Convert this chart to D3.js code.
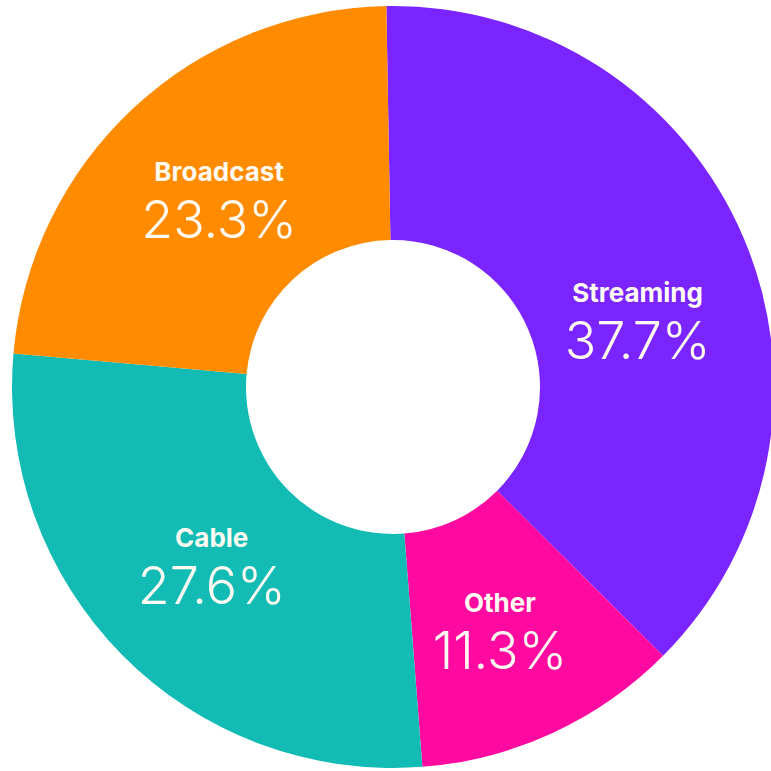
<!DOCTYPE html>
<html>
  <head>
    <meta charset="utf-8">
    <title></title>
    <script src="https://cdn.jsdelivr.net/npm/d3@7" charset="utf-8"></script>
    <style>
      html, body {margin: 0; padding: 0; background: #fff;}
      svg {display: block;}
    </style>
  </head>
  <body>
    <script>
    // data
    const categories = ['Streaming', 'Other', 'Cable', 'Broadcast'];
    const shares = [37.7, 11.3, 27.6, 23.3];
    const colors = ['#7a24ff', '#ff0aa0', '#12bcb4', '#ff8b00'];

    const W = 771, H = 771;
    const cx = 393, cy = 387;
    const outerR = 381, innerR = 147;

    const svg = d3.select('body').append('svg').attr('width', W).attr('height', H);
    const g = svg.append('g').attr('transform', `translate(${cx}, ${cy})`);

    const datas = categories.map((name, i) => ({name, value: shares[i], color: colors[i]}));

    // start slightly left of 12 o'clock like the original
    const offset = -1 * Math.PI / 180;
    const pie = d3.pie()
      .value(d => d.value)
      .sort(null)
      .startAngle(offset)
      .endAngle(2 * Math.PI + offset);

    const arc = d3.arc().innerRadius(innerR).outerRadius(outerR);
    const labelArc = d3.arc().innerRadius(255).outerRadius(255);

    const pieRes = pie(datas);

    g.selectAll('path.slice')
      .data(pieRes)
      .enter().append('path')
      .attr('class', 'slice')
      .attr('d', arc)
      .attr('fill', d => d.data.color)
      .attr('stroke', 'none');

    // Streaming label sits a bit lower than its centroid
    const nudge = {Streaming: [10, 34], Other: [0, 12]};

    const labels = g.selectAll('g.label')
      .data(pieRes)
      .enter().append('g')
      .attr('class', 'label')
      .attr('transform', d => {
        const [x, y] = labelArc.centroid(d);
        const n = nudge[d.data.name] || [0, 0];
        return `translate(${x + n[0]}, ${y + n[1]})`;
      });

    labels.append('text')
      .attr('text-anchor', 'middle')
      .attr('y', -19)
      .attr('fill', '#fffaf2')
      .style('font-family', 'Inter, "Noto Sans", sans-serif')
      .style('font-weight', 700)
      .style('font-size', '26px')
      .text(d => d.data.name);

    labels.append('text')
      .attr('text-anchor', 'middle')
      .attr('y', 38)
      .attr('fill', '#fffaf2')
      .style('font-family', 'Inter, "Noto Sans", sans-serif')
      .style('font-weight', 300)
      .style('font-size', '52px')
      .text(d => d.data.value.toFixed(1) + '%');
    </script>
  </body>
</html>
